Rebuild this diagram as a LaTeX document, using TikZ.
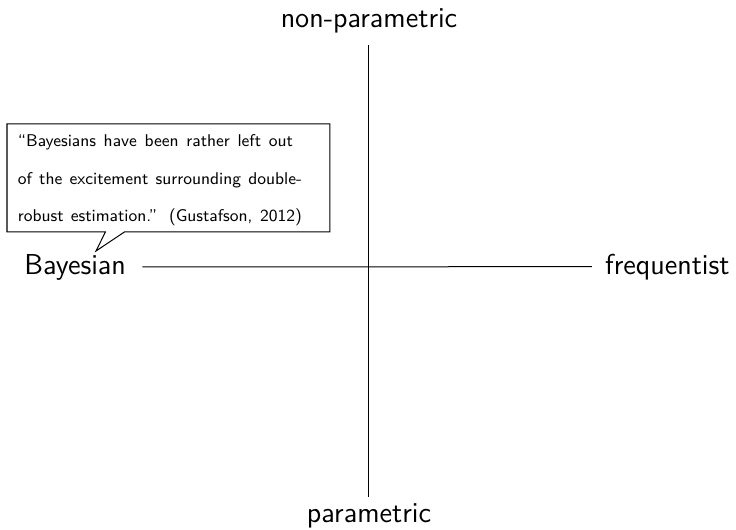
\documentclass[tikz,border=0pt]{standalone}
\usetikzlibrary{shapes.callouts}
\begin{document}
\begin{tikzpicture}[x=0.5pt,y=-0.5pt,
  axislabel/.style={font=\sffamily\fontsize{14.4}{16}\selectfont, inner sep=6pt},
  axisline/.style={line width=0.5pt, black},
  quotebox/.style={rectangle callout, draw, line width=0.5pt, fill=white, inner sep=0pt,
    minimum width=161.5pt, minimum height=54pt, callout pointer width=9.5pt},
  quotetext/.style={font=\sffamily\fontsize{8.5}{18.75}\selectfont, inner sep=0pt}]
\useasboundingbox (0,0) rectangle (736,530);
\node[axislabel, anchor=base] (np) at (369,27) {non-parametric};
\node[axislabel, anchor=base, inner ysep=3.5pt] (pa) at (369,523) {parametric};
\node[axislabel, anchor=base west, inner xsep=0pt] (bay) at (24,274) {Bayesian};
\node[axislabel, anchor=base east, inner xsep=0pt] (freq) at (730,274) {frequentist};
\draw[axisline] (np.south) -- (pa.north);
\draw[axisline, shorten <=8pt, shorten >=6.5pt] (bay.east) -- (freq.west);
\coordinate (tip) at (96,251);
\node[quotebox, callout absolute pointer={(tip)}] (qb) at (168.5,178) {};
\node[quotetext, anchor=base west] (qt) at (17.5,147) {\vtop{\baselineskip=18.75pt\lineskiplimit=0pt
  \hbox to 137.5pt{``Bayesians have been rather left out}
  \hbox to 142pt{of the excitement surrounding double-}
  \hbox to 142pt{robust estimation.'' (Gustafson, 2012)}}};
\end{tikzpicture}
\end{document}
